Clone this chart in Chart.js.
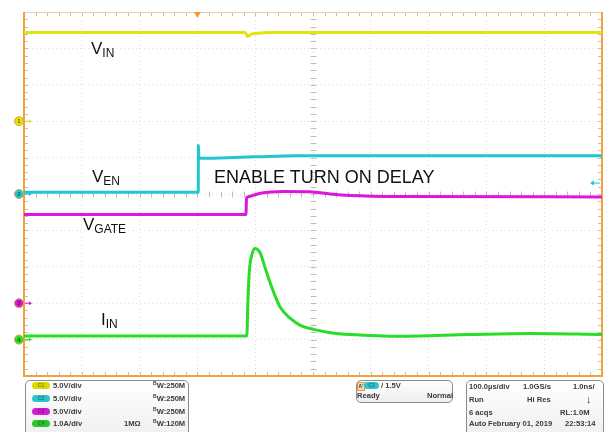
<!DOCTYPE html>
<html>
  <head>
    <meta charset="UTF-8" />
    <title>Enable turn on delay</title>
    <script src="https://cdn.jsdelivr.net/npm/chart.js"></script>
    <style>
      html, body { margin: 0; padding: 0; background: #fff; }
      #wrap { position: relative; width: 611px; height: 432px; overflow: hidden; font-family: "Liberation Sans", Arial, sans-serif; }
      #scope { position: absolute; left: 0; top: 0; }
      .lbl { position: absolute; font-size: 17px; line-height: 17px; color: #111; white-space: nowrap; }
      .lbl sub { font-size: 12px; vertical-align: -3px; line-height: 0; }
      .big { font-size: 18px; line-height: 18px; }
      .box { position: absolute; border: 1px solid #8c8c8c; border-radius: 5px; background: linear-gradient(#ffffff, #eeeeee); }
      .t { position: absolute; font-size: 7.6px; line-height: 9px; font-weight: bold; color: #3a3a3a; white-space: nowrap; }
      .pill { position: absolute; width: 18px; height: 7px; border-radius: 4px; font-size: 5px; line-height: 7px; font-weight: bold; text-align: center; }
      .t sup { font-size: 5px; vertical-align: 3px; line-height: 0; }
    </style>
  </head>
  <body>
    <div id="wrap">
      <canvas id="scope" width="611" height="432"></canvas>

      <div class="lbl" style="left:91px;top:40px">V<sub>IN</sub></div>
      <div class="lbl" style="left:92px;top:168px">V<sub>EN</sub></div>
      <div class="lbl" style="left:83px;top:216px">V<sub>GATE</sub></div>
      <div class="lbl" style="left:101px;top:311px">I<sub>IN</sub></div>
      <div class="lbl big" style="left:214px;top:168px">ENABLE TURN ON DELAY</div>

      <!-- channel readout -->
      <div class="box" style="left:25px;top:380px;width:162px;height:60px"></div>
      <div class="pill" style="left:32px;top:382px;background:#d9d900;color:#7c7c00">C1</div>
      <div class="pill" style="left:32px;top:395px;background:#2fc4cc;color:#137a80">C2</div>
      <div class="pill" style="left:32px;top:408px;background:#d21ed2;color:#7a107a">C3</div>
      <div class="pill" style="left:32px;top:420px;background:#2ec42e;color:#137a13">C4</div>
      <div class="t" style="left:53px;top:381px">5.0V/div</div>
      <div class="t" style="left:53px;top:394px">5.0V/div</div>
      <div class="t" style="left:53px;top:407px">5.0V/div</div>
      <div class="t" style="left:53px;top:419px">1.0A/div</div>
      <div class="t" style="left:153px;top:381px"><sup>B</sup>W:250M</div>
      <div class="t" style="left:153px;top:394px"><sup>B</sup>W:250M</div>
      <div class="t" style="left:153px;top:407px"><sup>B</sup>W:250M</div>
      <div class="t" style="left:124px;top:419px">1MΩ</div>
      <div class="t" style="left:153px;top:419px"><sup>B</sup>W:120M</div>

      <!-- trigger readout -->
      <div class="box" style="left:356px;top:380px;width:95px;height:21px"></div>
      <div class="t" style="left:357px;top:382px;width:6px;height:7px;background:#f4d8b0;border:1px solid #e89a40;font-size:5px;line-height:7px;text-align:center">A'</div>
      <div class="pill" style="left:364px;top:382px;width:15px;background:#2fc4cc;color:#137a80">C2</div>
      <div class="t" style="left:381px;top:381px">/ 1.5V</div>
      <div class="t" style="left:357px;top:391px">Ready</div>
      <div class="t" style="left:427px;top:391px">Normal</div>

      <!-- acquisition readout -->
      <div class="box" style="left:466px;top:380px;width:136px;height:60px"></div>
      <div class="t" style="left:469px;top:382px">100.0µs/div</div>
      <div class="t" style="left:523px;top:382px">1.0GS/s</div>
      <div class="t" style="left:573px;top:382px">1.0ns/</div>
      <div class="t" style="left:469px;top:395px">Run</div>
      <div class="t" style="left:527px;top:395px">Hi Res</div>
      <div class="t" style="left:586px;top:393px;font-size:11px;line-height:12px">↓</div>
      <div class="t" style="left:469px;top:408px">6 acqs</div>
      <div class="t" style="left:560px;top:408px">RL:1.0M</div>
      <div class="t" style="left:469px;top:419px">Auto</div>
      <div class="t" style="left:488px;top:419px">February 01, 2019</div>
      <div class="t" style="left:565px;top:419px">22:53:14</div>
    </div>

    <script>
      // time base 100 µs/div, trigger (t = 0) three divisions from the left edge
      const timeMin = -300;
      const timeMax = 700;

      // channel settings: units per division and ground position (divisions from centre)
      const ch1Scale = 5, ch1Offset = 2;    // VIN
      const ch2Scale = 5, ch2Offset = 0;    // VEN
      const ch3Scale = 5, ch3Offset = -3;   // VGATE
      const ch4Scale = 1, ch4Offset = -4;   // IIN
      const trigLevel = 1.5;                // on C2

      // VIN (V)
      const vinTime  = [-300, 83, 86.5, 95, 109, 130, 700];
      const vinVolts = [12.2, 12.2, 11.65, 12.0, 12.1, 12.2, 12.2];

      // VEN (V)
      const venTime  = [-300, 1.5, 1.8, 2.6, 40, 100, 170, 700];
      const venVolts = [0.25, 0.25, 6.7, 4.9, 4.95, 5.1, 5.25, 5.25];

      // VGATE (V)
      const vgateTime  = [-300, 84, 85, 87, 109, 150, 195, 230, 265, 350, 700];
      const vgateVolts = [12.2, 12.2, 14.4, 14.6, 15.1, 15.35, 15.3, 15.0, 14.8, 14.66, 14.6];

      // IIN (A)
      const iinTime = [-300, 85.5, 87.4, 90, 95, 100, 105.5, 109, 117.6, 126.3, 134.9, 143.6, 160.9, 178.2, 200.7, 230, 265, 351, 472, 576, 700];
      const iinAmps = [0.1, 0.1, 1.07, 1.9, 2.37, 2.5, 2.45, 2.37, 1.95, 1.54, 1.18, 0.88, 0.58, 0.39, 0.28, 0.19, 0.14, 0.09, 0.14, 0.17, 0.14];

      function toDiv(times, vals, scale, offset) {
        return times.map((t, i) => ({ x: t, y: vals[i] / scale + offset }));
      }

      const channels = [
        { n: '1', offset: ch1Offset, color: '#e3e30e', text: '#6a6a00' },
        { n: '2', offset: ch2Offset, color: '#22c6cf', text: '#0d5e62' },
        { n: '3', offset: ch3Offset, color: '#dc16dc', text: '#5e0a5e' },
        { n: '4', offset: ch4Offset, color: '#28dc28', text: '#0d5e0d' }
      ];

      // frame, minor ticks and channel / trigger markers
      const scopeFrame = {
        id: 'scopeFrame',
        beforeDatasetsDraw(chart) {
          const { ctx, chartArea: a, scales: { x, y } } = chart;
          const cx = Math.round(x.getPixelForValue(200)) + 0.5;
          const cy = Math.round(y.getPixelForValue(0)) + 0.5;
          ctx.save();
          ctx.strokeStyle = '#c4bdb2';
          ctx.lineWidth = 1;
          ctx.beginPath();
          for (let i = 0; i <= 50; i++) {
            const px = Math.round(x.getPixelForValue(timeMin + i * 20)) + 0.5;
            ctx.moveTo(px, a.top); ctx.lineTo(px, a.top + 4);
            ctx.moveTo(px, a.bottom); ctx.lineTo(px, a.bottom - 4);
            ctx.moveTo(px, cy - 3); ctx.lineTo(px, cy + 3);
          }
          for (let i = -25; i <= 25; i++) {
            const py = Math.round(y.getPixelForValue(i / 5)) + 0.5;
            ctx.moveTo(a.left, py); ctx.lineTo(a.left + 4, py);
            ctx.moveTo(a.right, py); ctx.lineTo(a.right - 4, py);
            ctx.moveTo(cx - 3, py); ctx.lineTo(cx + 3, py);
          }
          ctx.stroke();
          // top edge
          ctx.strokeStyle = '#e4cdb0';
          ctx.beginPath();
          ctx.moveTo(a.left, a.top + 0.5); ctx.lineTo(a.right, a.top + 0.5);
          ctx.stroke();
          // orange frame
          ctx.strokeStyle = '#f2a23c';
          ctx.lineWidth = 2;
          ctx.beginPath();
          ctx.moveTo(a.left, a.top); ctx.lineTo(a.left, a.bottom);
          ctx.lineTo(a.right, a.bottom); ctx.lineTo(a.right, a.top);
          ctx.stroke();
          ctx.restore();
        },
        afterDatasetsDraw(chart) {
          const { ctx, chartArea: a, scales: { x, y } } = chart;
          ctx.save();
          channels.forEach(c => {
            const py = y.getPixelForValue(c.offset);
            ctx.fillStyle = c.color;
            ctx.strokeStyle = '#e0a040';
            ctx.lineWidth = 1;
            ctx.beginPath();
            ctx.arc(a.left - 5, py, 4.5, 0, Math.PI * 2);
            ctx.fill();
            ctx.stroke();
            ctx.fillStyle = c.text;
            ctx.font = 'bold 6px "Liberation Sans", Arial';
            ctx.textAlign = 'center';
            ctx.textBaseline = 'middle';
            ctx.fillText(c.n, a.left - 5, py + 0.5);
            ctx.strokeStyle = c.color;
            ctx.beginPath();
            ctx.moveTo(a.left + 1, py); ctx.lineTo(a.left + 6, py);
            ctx.stroke();
            ctx.fillStyle = c.color;
            ctx.beginPath();
            ctx.moveTo(a.left + 8, py); ctx.lineTo(a.left + 5, py - 2); ctx.lineTo(a.left + 5, py + 2);
            ctx.fill();
          });
          // trigger position
          const tx = x.getPixelForValue(0);
          ctx.fillStyle = '#f29a2a';
          ctx.beginPath();
          ctx.moveTo(tx - 3.5, a.top); ctx.lineTo(tx + 3.5, a.top); ctx.lineTo(tx, a.top + 6);
          ctx.fill();
          // trigger level on C2
          const ty = y.getPixelForValue(trigLevel / ch2Scale + ch2Offset);
          ctx.strokeStyle = '#22c6cf';
          ctx.fillStyle = '#22c6cf';
          ctx.beginPath();
          ctx.moveTo(a.right - 9, ty); ctx.lineTo(a.right - 2, ty);
          ctx.stroke();
          ctx.beginPath();
          ctx.moveTo(a.right - 12, ty); ctx.lineTo(a.right - 8, ty - 2.5); ctx.lineTo(a.right - 8, ty + 2.5);
          ctx.fill();
          ctx.restore();
        }
      };

      const trace = (data, color) => ({
        data: data,
        borderColor: color,
        borderWidth: 3,
        pointRadius: 0,
        fill: false,
        cubicInterpolationMode: 'monotone'
      });

      new Chart(document.getElementById('scope'), {
        type: 'line',
        data: {
          datasets: [
            trace(toDiv(vinTime, vinVolts, ch1Scale, ch1Offset), '#e3e30e'),
            trace(toDiv(venTime, venVolts, ch2Scale, ch2Offset), '#22c6cf'),
            trace(toDiv(vgateTime, vgateVolts, ch3Scale, ch3Offset), '#dc16dc'),
            trace(toDiv(iinTime, iinAmps, ch4Scale, ch4Offset), '#28dc28')
          ]
        },
        options: {
          responsive: false,
          animation: false,
          devicePixelRatio: 1,
          layout: { padding: { left: 24, right: 9, top: 12, bottom: 56 } },
          plugins: { legend: { display: false }, tooltip: { enabled: false } },
          scales: {
            x: {
              type: 'linear', min: timeMin, max: timeMax,
              ticks: { display: false, stepSize: 100 },
              grid: { color: '#dedede', drawTicks: false },
              border: { display: false, dash: [1, 3] }
            },
            y: {
              type: 'linear', min: -5, max: 5,
              ticks: { display: false, stepSize: 1 },
              grid: { color: '#dedede', drawTicks: false },
              border: { display: false, dash: [1, 3] }
            }
          }
        },
        plugins: [scopeFrame]
      });
    </script>
  </body>
</html>
